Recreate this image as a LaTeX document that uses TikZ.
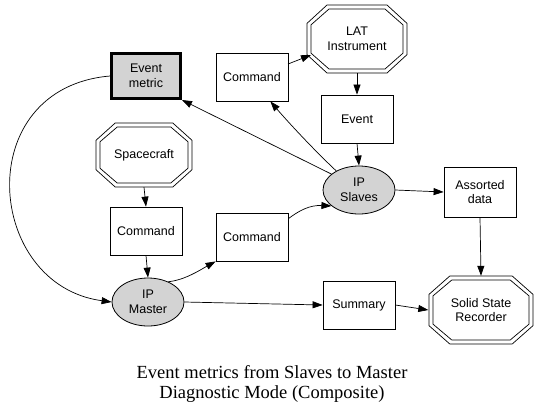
\documentclass[tikz,border=0pt]{standalone}
\usepackage{fontspec}
\setmainfont{Liberation Serif}
\newfontfamily\lab{Liberation Sans}
\usetikzlibrary{arrows.meta,calc,shapes.geometric}
\definecolor{lgray}{RGB}{211,211,211}
\tikzset{
  every node/.style={font=\lab\fontsize{12.5}{14.5}\selectfont, align=center, inner sep=0pt},
  boxnode/.style={draw, rectangle, minimum width=72pt, minimum height=48pt, line width=0.8pt},
  metricnode/.style={boxnode, fill=lgray, line width=3pt, minimum width=69pt, minimum height=45pt},
  ipnode/.style={draw, ellipse, fill=lgray, minimum width=72pt, minimum height=48pt, line width=0.8pt},
  octnode/.style={rectangle, draw=none},
  edge/.style={draw, line width=0.7pt, -{Triangle[length=10pt,width=7pt]}},
}
\newcommand\dbloct[4]{% cx cy halfw halfh
  \draw[line width=0.7pt] ({#1-0.6*#3},{#2-#4}) -- ({#1+0.6*#3},{#2-#4}) -- ({#1+#3},{#2-0.46*#4}) -- ({#1+#3},{#2+0.46*#4}) -- ({#1+0.6*#3},{#2+#4}) -- ({#1-0.6*#3},{#2+#4}) -- ({#1-#3},{#2+0.46*#4}) -- ({#1-#3},{#2-0.46*#4}) -- cycle;
  \draw[line width=0.7pt] ({#1-0.6*#3+2},{#2-#4+4}) -- ({#1+0.6*#3-2},{#2-#4+4}) -- ({#1+#3-4},{#2-0.46*#4+1.5}) -- ({#1+#3-4},{#2+0.46*#4-1.5}) -- ({#1+0.6*#3-2},{#2+#4-4}) -- ({#1-0.6*#3+2},{#2+#4-4}) -- ({#1-#3+4},{#2+0.46*#4-1.5}) -- ({#1-#3+4},{#2-0.46*#4+1.5}) -- cycle;
}
\begin{document}
\begin{tikzpicture}[x=1pt,y=-1pt]
\useasboundingbox (0,0) rectangle (551,416);
% nodes
\node[metricnode] (metric) at (146,76) {Event\\metric};
\node[boxnode] (cmdtop) at (252,77) {Command};
\node[octnode, minimum width=104pt, minimum height=68pt] (lat) at (357,39) {LAT\\Instrument};
\dbloct{357}{39}{50}{34}
\node[boxnode] (event) at (357,119) {Event};
\node[ipnode] (slaves) at (359,190) {IP\\Slaves};
\node[boxnode, minimum height=50pt] (assorted) at (480,192) {Assorted\\data};
\node[octnode, minimum width=96pt, minimum height=64pt] (space) at (144,155) {Spacecraft};
\dbloct{144}{155}{48}{32}
\node[boxnode] (cmdleft) at (146,231) {Command};
\node[boxnode] (cmdmid) at (252,237) {Command};
\node[ipnode] (master) at (148,302) {IP\\Master};
\node[boxnode] (summary) at (359,305) {Summary};
\node[octnode, minimum width=105pt, minimum height=68pt] (ssr) at (481,310) {Solid State\\Recorder};
\dbloct{481}{310}{52}{34}
\coordinate (cmdtopend) at ($(cmdtop.south east)+(-18,0)$);
\coordinate (cmdtopout) at (288,64);
\coordinate (latin) at (311,55);
\coordinate (cmdmidout) at ($(cmdmid.north east)+(0,6)$);
% edges
\path[edge] (slaves.150) -- (metric.south east);
\path[edge] (slaves.140) .. controls (314,150) and (288,122) .. (cmdtopend);
\path[edge] (cmdtopout) -- (latin);
\path[edge] (lat.south) -- (event.north);
\path[edge] (event.south) -- (slaves.north);
\path[edge] (slaves.east) -- (assorted.west);
\path[edge] (assorted.south) -- (ssr.north);
\path[edge] (space.south) -- (cmdleft.north);
\path[edge] (cmdleft.south) -- (master.north);
\path[edge] (master.45) .. controls (185,280) and (200,270) .. (cmdmid.south west);
\path[edge] (cmdmidout) .. controls (300,210) and (310,205) .. (slaves.-150);
\path[edge] (master.east) -- (summary.west);
\path[edge] (summary.east) -- (ssr.west);
\path[edge] (metric.west) .. controls (-30,88) and (-15,285) .. (master.west);
% caption
\node[font=\fontsize{18.5}{20}\selectfont] (cap) at (272,384) {Event metrics from Slaves to Master\\Diagnostic Mode (Composite)};
\end{tikzpicture}
\end{document}
